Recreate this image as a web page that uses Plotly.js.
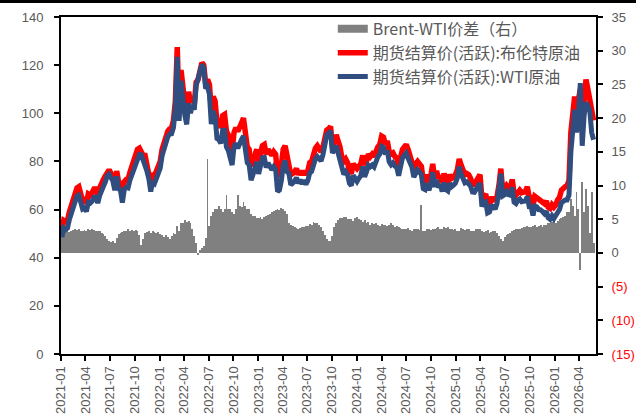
<!DOCTYPE html>
<html><head><meta charset="utf-8">
<script src="https://cdn.plot.ly/plotly-3.0.1.min.js"></script>
<style>html,body{margin:0;padding:0;background:#fff}#wrap{position:relative;width:636px;height:415px}#chart{width:636px;height:415px}#topbar{position:absolute;left:0;top:0;width:636px;height:3px;background:#000;z-index:5}</style>
</head><body><div id="wrap"><div id="chart"></div><div id="topbar"></div></div>
<script>
// weekly observations, first week starting Monday 2021-01-04
const startDate = '2021-01-04';
const seriesNames = ['Brent-WTI价差（右）', '期货结算价(活跃):布伦特原油', '期货结算价(活跃):WTI原油'];

const brent = [
 // 2021
 51.5,55.5,55,55.5, 59,61.5,63,65.5, 69,69.5,65,63.5,64, 62.5,66.5,66,67, 68.5,68.5,66,69,71.5, 72.5,74,76,76.5,
 75,73.5,69.5,76, 71.5,71,66,71.5,72.5, 72.5,75.5,78,79, 82.5,85,85.5,84, 82.5,82.5,79,76,70.5, 75,74,76,78,
 // 2022
 80,85,88,89.5,92.5, 93.5,94,97,105, 127.5,100,118,108, 104,100,109,104.5, 107,104,113,114,118, 121,120,112.5,114,
 112,101,107,105, 96,96,94,99,99.5, 92.5,91,88,84.5, 92,94,92.5,95,96, 98,90,86,85, 78,80,82,85,
 // 2023
 80,84,86.5,87,83, 85,84,82.5,84, 83,74,74.5,78.5, 85,86.5,81.5,79.5, 74.5,75,75.5,77,74.5, 76,74.5,76,74.5,
 76,79.5,80,83.5,85.5, 86.5,85,84,86, 90,93,93.5,94.5, 86,89.5,91,88.5,86, 81.5,80,81,79.5, 76,75,79,77.5,
 // 2024
 77,78,79,82.5,78.5, 80,83,82,83, 82,85,86,87, 90.5,90,87,88.5,84, 83,83.5,82,81.5, 78,82.5,85,86,
 87,85,82.5,81,77, 79,80,79,78, 72,71.5,74.5,71.5,74, 79,73,76,73, 74,71,75,72, 71.5,74.5,73,73.5,74.5,
 // 2025
 76.5,81,78.5,76.5, 74.5,75,74.5,73, 70.5,70.5,72,73,74.5, 64.5,66,66.5,62, 62,64.5,64.5,63.5, 65.5,70,77,67.5,68.5,
 70,69,69,72.5, 66.5,66,67.5,68, 67,67,67.5,69.5,65, 65,61.5,65.5,65, 64,64,63,62.5, 63.5,61,60.5,62,61,
 // 2026
 62,64,65,68, 69,69.5,70,72, 92,103,107,101,106, 110,97,105,114, 110,106,100,97
];

const wti = [
 // 2021
 48.5,52.3,51.7,52.3, 55.9,58.2,59.6,62.0, 65.6,66.0,61.8,60.2,60.6, 59.2,63.0,62.6,63.4, 65.1,65.2,62.7,65.8,68.6, 69.7,71.5,74.0,74.7,
 73.4,71.8,68.0,73.8, 68.7,68.0,62.9,68.3,69.2, 69.0,72.2,74.6,75.8, 79.1,81.7,82.9,82.8, 80.5,79.5,75.9,72.7,67.5, 71.7,70.9,73.0,74.9,
 // 2022
 77.2,82.4,85.6,86.9,90.2, 91.4,91.5,94.1,102.2, 123.5,96.8,113.5,103.6, 99.1,95.4,104.2,100.0, 103.5,101.5,111.5,114.3,117.5, 120.2,119.0,110.3,111.0,
 108.0,95.5,101.0,98.5, 89.5,89.0,87.5,93.0,93.0, 86.0,84.5,81.5,78.5, 86.2,87.5,85.5,88.0,89.2, 90.5,83.0,79.5,78.5, 72.2,74.5,76.5,79.8,
 // 2023
 74.8,78.6,81.5,81.7,77.5, 79.4,78.2,76.5,77.8, 76.7,67.5,68.1,71.9, 78.5,80.3,75.7,75.0, 70.3,71.0,71.7,73.3,70.9, 72.3,70.7,72.1,70.5,
 72.0,75.2,75.8,78.9,81.0, 82.0,80.8,80.2,82.8, 87.4,90.9,91.7,92.8, 83.5,85.7,86.5,83.6,80.8, 76.3,74.6,75.7,74.5, 70.9,70.0,74.2,72.3,
 // 2024
 71.7,73.0,74.1,77.9,73.6, 75.6,78.4,77.8,78.5, 77.7,80.6,81.9,83.0, 86.2,85.8,82.9,84.5,79.8, 78.6,79.4,78.1,77.5, 74.1,78.8,81.4,82.5,
 83.4,81.3,79.1,77.7,73.5, 75.4,76.5,75.6,74.5, 68.7,68.3,70.9,68.0,70.6, 75.5,69.4,72.3,69.2, 70.4,67.5,71.2,68.3, 67.7,70.9,69.5,70.1,71.0,
 // 2025
 73.2,77.8,74.8,73.0, 71.1,71.5,70.9,69.7, 67.3,67.2,68.5,69.4,71.0, 61.3,62.9,63.2,58.6, 59.0,61.4,61.3,60.2, 62.5,67.5,75.0,65.7,66.2,
 67.4,66.2,66.0,69.3, 63.1,62.5,63.9,64.4, 63.3,63.2,63.6,65.5,61.2, 61.1,57.5,61.4,61.1, 60.0,59.9,59.2,58.3, 59.3,56.6,56.0,57.4,56.2,
 // 2026
 57.5,59.2,60.0,62.8, 63.7,64.0,64.0,66.0, 84.0,96.0,101.5,92.0,99.5, 112.5,86.5,99.0,104.5, 103.0,101.0,92.0,89.0
];

const spread = [
 // 2021
 3.0,3.2,3.3,3.2, 3.1,3.3,3.4,3.5, 3.4,3.5,3.2,3.3,3.4, 3.3,3.5,3.4,3.6, 3.4,3.3,3.3,3.2,2.9, 2.8,2.5,2.0,1.8,
 1.6,1.7,1.5,2.2, 2.8,3.0,3.1,3.2,3.3, 3.5,3.3,3.4,3.2, 3.4,3.3,2.6,1.2, 2.0,3.0,3.1,3.3,3.0, 3.3,3.1,3.0,3.1,
 // 2022
 2.8,2.6,2.4,2.6,2.3, 2.1,2.5,2.9,2.8, 4.0,3.2,4.5,4.4, 4.9,4.6,4.8,4.5, 3.5,2.5,1.5,-0.3,0.5, 0.8,1.0,2.2,14.0,
 4.0,5.5,6.0,6.5, 6.5,7.0,6.5,6.0,6.5, 8.6,6.5,6.5,6.0, 5.8,6.5,8.6,7.0,6.8, 7.5,7.0,6.5,6.5, 5.8,5.5,5.5,5.2,
 // 2023
 5.2,5.4,5.0,5.3,5.5, 5.6,5.8,6.0,6.2, 6.3,6.5,6.4,6.6, 6.5,6.2,5.8,4.5, 4.2,4.0,3.8,3.7,3.6, 3.7,3.8,3.9,4.0,
 4.0,4.3,4.2,4.6,4.5, 4.5,4.2,3.8,3.2, 2.6,2.1,1.8,1.7, 2.5,3.8,4.5,4.9,5.2, 5.2,5.4,5.3,5.0, 5.1,5.0,4.8,5.2,
 // 2024
 5.3,5.0,4.9,4.6,4.9, 4.4,4.6,4.2,4.5, 4.3,4.4,4.1,4.0, 4.3,4.2,4.1,4.0,4.2, 4.4,4.1,3.9,4.0, 3.9,3.7,3.6,3.5,
 3.6,3.7,3.4,3.3,3.5, 3.6,3.5,3.4,7.1, 3.3,3.2,3.6,3.5,3.4, 3.5,3.6,3.7,3.8, 3.6,3.5,3.8,3.7, 3.8,3.6,3.5,3.4,3.5,
 // 2025
 3.3,3.2,3.7,3.5, 3.4,3.5,3.6,3.3, 3.2,3.3,3.5,3.6,3.5, 3.2,3.1,3.3,3.4, 3.0,3.1,3.2,3.3, 3.0,2.5,2.0,1.8,2.3,
 2.6,2.8,3.0,3.2, 3.4,3.5,3.6,3.6, 3.7,3.8,3.9,4.0,3.8, 3.9,4.0,4.1,3.9, 4.0,4.1,3.8,4.2, 4.2,4.4,4.5,4.6,4.8,
 // 2026
 4.5,4.8,5.0,5.2, 5.3,5.5,6.0,6.0, 8.0,7.0,5.5,9.0,6.5, -2.5,10.5,6.0,9.5, 7.0,3.0,9.0,1.5
];

const leftTicks = [0,20,40,60,80,100,120,140];
const rightTickVals = [-15,-10,-5,0,5,10,15,20,25,30,35];
const rightTickText = ['<span style="color:#FF0000">(15)</span>','<span style="color:#FF0000">(10)</span>','<span style="color:#FF0000">(5)</span>','0','5','10','15','20','25','30','35'];

const t0 = Date.UTC(2021,0,4);
const dates = brent.map((_, i) => new Date(t0 + i*7*86400000).toISOString().slice(0,10));

const tickFont = {family:'"Liberation Sans", Arial, sans-serif', size:13, color:'#595959'};

const traces = [
 // legend key for the spread bars (wide grey block, as in the original legend)
 {type:'scatter', mode:'lines', name:seriesNames[0], x:[null], y:[null], yaxis:'y', legendgroup:'spread',
  line:{color:'#808080', width:8}, showlegend:true},
 {type:'bar', name:seriesNames[0], x:dates, y:spread, yaxis:'y', width:7*86400000, legendgroup:'spread',
  marker:{color:'#808080', line:{width:0}}, showlegend:false},
 {type:'scatter', mode:'lines', name:seriesNames[1], x:dates, y:brent, yaxis:'y2',
  line:{color:'#FF0000', width:5.5}},
 {type:'scatter', mode:'lines', name:seriesNames[2], x:dates, y:wti, yaxis:'y2',
  line:{color:'#2F4D7E', width:5}}
];

const layout = {
 width:636, height:415,
 margin:{l:61, r:40, t:17, b:61, pad:0},
 paper_bgcolor:'#ffffff', plot_bgcolor:'#ffffff',
 showlegend:true,
 bargap:0,
 legend:{x:0.508, y:1.015, xanchor:'left', yanchor:'top', bgcolor:'rgba(255,255,255,0)',
  font:{family:'"Noto Sans CJK SC", sans-serif', size:16, color:'#595959'}, tracegroupgap:0, itemwidth:30},
 xaxis:{type:'date', range:['2021-01-01','2026-06-03'], tick0:'2021-01-01', dtick:'M3', tickformat:'%Y-%m',
  tickangle:-90, ticks:'outside', ticklen:5, tickwidth:2, tickcolor:'#000',
  showline:true, linecolor:'#000', linewidth:2, mirror:true, showgrid:false, zeroline:false, tickfont:tickFont},
 yaxis:{side:'right', range:[-15,35], tickvals:rightTickVals, ticktext:rightTickText,
  ticks:'outside', ticklen:5, tickwidth:2, tickcolor:'#000', ticklabelstandoff:6,
  showline:true, linecolor:'#000', linewidth:2, showgrid:false, zeroline:false, tickfont:tickFont},
 yaxis2:{overlaying:'y', side:'left', range:[0,140], tickvals:leftTicks,
  ticks:'outside', ticklen:5, tickwidth:2, tickcolor:'#000', ticklabelstandoff:8,
  showline:true, linecolor:'#000', linewidth:2, showgrid:false, zeroline:false, tickfont:tickFont}
};

Plotly.newPlot('chart', traces, layout, {staticPlot:true, displayModeBar:false});
</script></body></html>
